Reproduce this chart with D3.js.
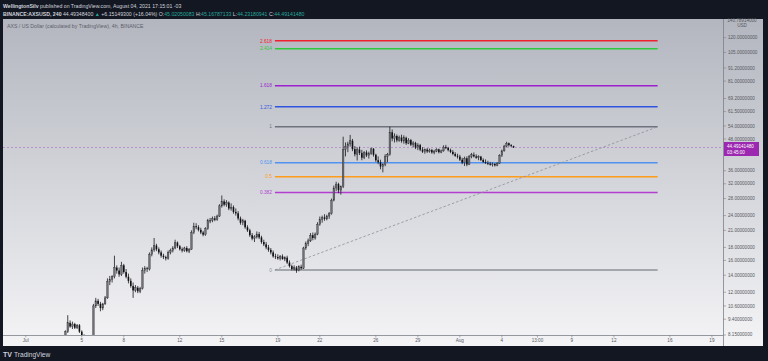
<!DOCTYPE html>
<html><head><meta charset="utf-8">
<script src="https://cdn.jsdelivr.net/npm/d3@7"></script>
<style>
html,body{margin:0;padding:0;background:#131722;overflow:hidden;}
svg{display:block;font-family:"Liberation Sans",Arial,sans-serif;}
</style></head><body>
<svg id="c" width="768" height="361"></svg>
<script>
// ---------- DATA ----------
const startTime = Date.UTC(2021, 6, 3, 20); // first bar (4h bars)
const barHours = 4;
const opens = [8.0,
 8.4,9.1,8.8,9.0,8.7,8.9,  8.4,8.0,7.8,7.7,7.6,7.9,  10.6,11.1,10.8,10.4,10.8,11.4,
 13.2,13.5,13.8,15.0,14.6,14.1,  15.3,14.4,13.8,13.3,12.7,12.2,  12.5,12.1,12.4,14.6,14.9,14.8,
 16.9,17.6,18.3,17.7,17.2,16.7,  16.5,16.3,17.2,17.5,17.9,18.8,  18.2,17.7,17.5,17.9,17.4,17.7,
 20.6,21.8,21.6,21.1,20.6,20.2,  21.3,22.9,23.0,23.4,23.1,23.9,  26.2,27.3,26.5,27.0,25.6,25.9,
 24.8,24.5,23.4,22.5,22.9,21.6,  21.0,20.1,19.5,19.8,20.3,19.7,  18.9,18.5,18.0,17.6,17.2,16.6,
 16.5,16.3,16.6,16.2,16.4,15.7,  15.2,14.8,15.0,14.6,15.1,14.9,  17.9,18.6,19.1,20.1,19.6,20.3,
 22.2,23.2,23.6,23.3,23.9,24.4,  27.6,30.8,31.9,30.2,31.2,43.6,  44.8,45.9,47.2,43.8,41.8,43.6,
 42.3,40.5,42.5,41.4,42.0,43.9,  41.6,39.6,38.9,37.4,38.1,40.9,  41.7,51.0,48.2,49.3,47.4,48.6,
 47.1,48.5,46.2,47.5,45.6,46.3,  44.4,45.4,43.6,42.8,43.6,42.9,  43.4,42.5,43.0,43.7,42.6,43.1,
 44.6,44.2,43.4,42.7,41.9,41.2,  40.9,39.8,38.7,40.3,38.1,41.0,  41.6,41.0,40.5,40.9,39.7,39.0,
 38.6,38.4,38.0,38.3,37.8,38.5,  41.4,43.1,45.0,46.2,45.4,45.0205];
const highs = [8.5,
 9.75,9.3,9.2,9.1,9.0,9.0,  8.5,8.2,8.0,7.9,8.0,10.8,  11.4,11.3,11.0,10.9,11.6,13.6,
 13.9,14.0,16.7,15.3,15.0,15.8,  15.5,14.8,14.2,13.6,13.1,12.8,  12.7,12.6,15.0,15.2,15.1,17.2,
 18.0,19.6,18.6,18.0,17.5,17.0,  16.7,17.5,17.8,18.2,19.3,19.0,  18.4,18.0,18.1,18.2,17.9,21.0,
 22.5,22.4,22.0,21.5,20.9,21.6,  23.3,23.5,23.8,23.9,24.2,26.6,  28.8,27.8,27.6,27.3,26.8,26.3,
 25.6,25.0,23.8,23.3,23.1,22.0,  21.3,20.5,20.1,20.8,20.7,20.0,  19.3,18.9,18.4,17.9,17.5,17.0,
 16.9,16.8,16.9,16.6,16.7,16.0,  15.4,15.3,15.2,15.3,15.4,18.1,  19.0,19.5,20.5,20.6,20.6,22.6,
 23.8,24.0,24.3,24.2,24.8,28.0,  31.5,32.6,32.3,31.5,49.0,46.5,  46.8,49.8,48.0,45.0,44.5,44.8,
 43.5,43.0,43.3,42.8,44.4,44.2,  42.0,41.0,39.8,38.5,41.8,42.3,  53.6,52.3,50.5,50.0,49.5,49.9,
 49.6,49.0,48.3,48.0,47.0,46.8,  46.2,45.9,44.6,44.0,44.2,44.0,  43.9,43.5,44.1,44.0,43.6,45.3,
 45.5,44.7,44.0,43.4,42.6,42.0,  41.6,40.5,40.9,41.0,41.5,42.3,  42.5,41.8,41.4,41.2,40.3,39.9,
 39.4,39.0,38.8,38.6,38.9,41.8,  43.6,45.5,46.8,46.5,45.8,45.1679];
const lows = [7.9,
 8.3,8.7,8.6,8.6,8.6,8.3,  7.9,7.6,7.5,7.4,7.5,7.8,  10.4,10.6,10.1,10.2,10.7,11.3,
 12.8,13.1,13.6,14.2,13.8,13.9,  14.2,13.6,13.0,12.5,11.4,12.0,  11.9,11.9,12.3,14.2,14.4,14.6,
 16.6,17.3,17.4,16.9,16.4,16.2,  16.0,16.1,16.9,17.2,17.7,17.9,  17.5,17.2,17.3,17.2,17.1,17.6,
 20.3,21.2,20.8,20.3,19.9,20.0,  21.1,22.4,22.6,22.8,22.9,23.7,  25.8,26.1,26.0,25.2,25.1,24.4,
 24.0,23.0,22.1,22.0,21.3,20.7,  19.8,19.2,18.9,19.5,19.4,18.6,  18.2,17.7,17.3,16.9,16.4,16.2,
 16.1,16.0,16.1,15.9,15.5,15.0,  14.6,14.6,14.3,14.5,14.7,14.8,  17.6,18.2,18.9,19.2,19.3,20.1,
 21.9,22.5,22.9,23.0,23.3,24.2,  27.3,30.0,29.4,29.0,30.8,41.0,  42.6,44.8,43.0,41.0,39.5,41.5,
 39.6,40.0,40.8,40.2,41.6,40.9,  39.0,38.2,36.5,35.5,37.5,38.9,  41.3,47.0,46.5,46.6,46.8,46.4,
 46.0,45.5,45.8,45.0,44.5,43.8,  43.4,43.0,42.3,42.0,42.3,42.4,  42.0,41.8,42.6,42.1,42.2,42.8,
 43.8,42.9,42.2,41.4,40.8,40.2,  39.3,38.2,37.6,37.5,37.9,40.3,  40.6,40.1,39.6,39.3,38.6,38.3,
 37.9,37.7,37.4,37.4,37.5,38.3,  40.8,42.8,44.5,44.8,44.6,44.2318];
const closes = [8.4,
 9.1,8.8,9.0,8.7,8.9,8.4,  8.0,7.8,7.7,7.6,7.9,10.6,  11.1,10.8,10.4,10.8,11.4,13.2,
 13.5,13.8,15.0,14.6,14.1,15.3,  14.4,13.8,13.3,12.7,12.2,12.5,  12.1,12.4,14.6,14.9,14.8,16.9,
 17.6,18.3,17.7,17.2,16.7,16.5,  16.3,17.2,17.5,17.9,18.8,18.2,  17.7,17.5,17.9,17.4,17.7,20.6,
 21.8,21.6,21.1,20.6,20.2,21.3,  22.9,23.0,23.4,23.1,23.9,26.2,  27.3,26.5,27.0,25.6,25.9,24.8,
 24.5,23.4,22.5,22.9,21.6,21.0,  20.1,19.5,19.8,20.3,19.7,18.9,  18.5,18.0,17.6,17.2,16.6,16.5,
 16.3,16.6,16.2,16.4,15.7,15.2,  14.8,15.0,14.6,15.1,14.9,17.9,  18.6,19.1,20.1,19.6,20.3,22.2,
 23.2,23.6,23.3,23.9,24.4,27.6,  30.8,31.9,30.2,31.2,43.6,44.8,  45.9,47.2,43.8,41.8,43.6,42.3,
 40.5,42.5,41.4,42.0,43.9,41.6,  39.6,38.9,37.4,38.1,40.9,41.7,  51.0,48.2,49.3,47.4,48.6,47.1,
 48.5,46.2,47.5,45.6,46.3,44.4,  45.4,43.6,42.8,43.6,42.9,43.4,  42.5,43.0,43.7,42.6,43.1,44.6,
 44.2,43.4,42.7,41.9,41.2,40.9,  39.8,38.7,40.3,38.1,41.0,41.6,  41.0,40.5,40.9,39.7,39.0,38.6,
 38.4,38.0,38.3,37.8,38.5,41.4,  43.1,45.0,46.2,45.4,45.0205,44.4914148];

const priceTicks = [120,105,91.2,81,69.2,61.5,54,48,36,32,28,24,21,18,16,14,12,10.6,9.4,8.15];
const priceTop = 140.78914;
const priceBottom = 8.15;
const dateTickTimes = [Date.UTC(2021,6,1),Date.UTC(2021,6,5),Date.UTC(2021,6,8),Date.UTC(2021,6,12),
  Date.UTC(2021,6,15),Date.UTC(2021,6,19),Date.UTC(2021,6,22),Date.UTC(2021,6,26),Date.UTC(2021,6,29),
  Date.UTC(2021,7,1),Date.UTC(2021,7,4),Date.UTC(2021,7,6,13),Date.UTC(2021,7,9),Date.UTC(2021,7,12),
  Date.UTC(2021,7,16),Date.UTC(2021,7,19)];
const dateTickLabels = ["Jul","5","8","12","15","19","22","26","29","Aug","4","13:00","9","12","16","19"];
const fibLevels = [0, 0.382, 0.5, 0.618, 1, 1.272, 1.618, 2.414, 2.618];
const fibLabels = ["0","0.382","0.5","0.618","1","1.272","1.618","2.414","2.618"];
const fibLow = 14.68, fibHigh = 53.6;
const fibStartTime = Date.UTC(2021,6,18,19), fibEndTime = Date.UTC(2021,7,15,3);
const lastPrice = 44.4914148;
const lastPriceLabel = "44.49141480", countdown = "03:45:00";

// ---------- STYLES ----------
const fibColor = {"0":"#8f929b","0.382":"#b23fd0","0.5":"#ff9c1a","0.618":"#4f92f0","1":"#6f727c",
  "1.272":"#2f55e0","1.618":"#9c1fd0","2.414":"#2fc83c","2.618":"#f0202e"};

const svg = d3.select("#c");
const W = 768, H = 361;
const L = 3, R = 723, T = 20, B = 335;

const defs = svg.append("defs");
const grad = defs.append("linearGradient").attr("id","bg").attr("x1",0).attr("y1",0).attr("x2",0).attr("y2",1);
grad.append("stop").attr("offset","0%").attr("stop-color","#b3b6bf");
grad.append("stop").attr("offset","100%").attr("stop-color","#f4f4f6");
defs.append("clipPath").attr("id","plot").append("rect").attr("x",L).attr("y",T).attr("width",R-L).attr("height",B-T);

svg.append("rect").attr("width",W).attr("height",H).attr("fill","#131722");
svg.append("rect").attr("x",3).attr("y",19).attr("width",760).attr("height",327).attr("fill","url(#bg)");

const x = d3.scaleUtc().domain([new Date(Date.UTC(2021,5,29,9)), new Date(Date.UTC(2021,7,19,19))]).range([L,R]);
const y = d3.scaleLog().domain([priceBottom, priceTop]).range([B,T]);

// header
const hdr = svg.append("g").attr("font-size",5.2).attr("fill","#d1d4dc");
const h1 = hdr.append("text").attr("x",3).attr("y",8);
h1.append("tspan").attr("font-weight","bold").text("WellingtonSilv");
h1.append("tspan").text(" published on TradingView.com, August 04, 2021 17:15:01 -03");
const h2 = hdr.append("text").attr("x",3).attr("y",15.5);
h2.append("tspan").attr("font-weight","bold").text("BINANCE:AXSUSD, 240 ");
h2.append("tspan").text("44.49348400 ");
h2.append("tspan").attr("fill","#26a69a").text("▲");
h2.append("tspan").text(" +6.15149300 (+16.04%) O:");
h2.append("tspan").attr("fill","#26a69a").text("45.02050083");
h2.append("tspan").text(" H:");
h2.append("tspan").attr("fill","#26a69a").text("45.16787133");
h2.append("tspan").text(" L:");
h2.append("tspan").attr("fill","#26a69a").text("44.23180941");
h2.append("tspan").text(" C:");
h2.append("tspan").attr("fill","#26a69a").text("44.49141480");

svg.append("text").attr("x",7).attr("y",28).attr("font-size",5.2).attr("fill","#5d606b")
  .text("AXS / US Dollar (calculated by TradingView), 4h, BINANCE");

// fib levels
const fg = svg.append("g");
const fx1 = x(new Date(fibStartTime)), fx2 = x(new Date(fibEndTime));
fibLevels.forEach((lv,i)=>{
  const p = fibLow + lv*(fibHigh-fibLow);
  const yy = y(p);
  fg.append("line").attr("x1",fx1).attr("x2",fx2).attr("y1",yy).attr("y2",yy)
    .attr("stroke",fibColor[fibLabels[i]]).attr("stroke-width",1.5);
  fg.append("text").attr("x",fx1-3).attr("y",yy).attr("dy","0.35em").attr("text-anchor","end")
    .attr("font-size",4.8).attr("fill",fibColor[fibLabels[i]]).text(fibLabels[i]);
});
fg.append("line").attr("x1",fx1).attr("y1",y(fibLow)).attr("x2",fx2).attr("y2",y(fibHigh))
  .attr("stroke","#8c8f98").attr("stroke-width",0.8).attr("stroke-dasharray","2.5,2");

// current price dashed line
const ly = Math.round(y(lastPrice))+0.5;
svg.append("line").attr("x1",L).attr("x2",R).attr("y1",ly).attr("y2",ly)
  .attr("stroke","#b07cc6").attr("stroke-width",0.7).attr("stroke-dasharray","2,2");

// candles
const data = closes.map((c,i)=>({t:new Date(startTime + i*barHours*3600e3), o:opens[i], h:highs[i], l:lows[i], c}));
const cg = svg.append("g").attr("clip-path","url(#plot)");
const bw = 1.6;
cg.selectAll("line.w").data(data).join("line").attr("class","w")
  .attr("x1",d=>x(d.t)).attr("x2",d=>x(d.t)).attr("y1",d=>y(d.h)).attr("y2",d=>y(d.l))
  .attr("stroke","#1a1a1d").attr("stroke-width",0.8);
cg.selectAll("rect.b").data(data).join("rect").attr("class","b")
  .attr("x",d=>x(d.t)-bw/2).attr("width",bw)
  .attr("y",d=>y(Math.max(d.o,d.c)))
  .attr("height",d=>Math.max(0.8, Math.abs(y(d.o)-y(d.c))))
  .attr("fill",d=>d.c>=d.o?"#6f7075":"#101013")
  .attr("stroke",d=>d.c>=d.o?"#2a2a2e":"none").attr("stroke-width",0.35);

// axes lines
svg.append("line").attr("x1",R+0.5).attr("x2",R+0.5).attr("y1",19).attr("y2",346).attr("stroke","#7d8089").attr("stroke-width",0.8);
svg.append("line").attr("x1",L).attr("x2",R).attr("y1",B+0.5).attr("y2",B+0.5).attr("stroke","#7d8089").attr("stroke-width",0.8);

// price axis
const pa = svg.append("g").attr("font-size",4.6).attr("fill","#55585f");
priceTicks.forEach(p=>{
  const yy = y(p);
  pa.append("line").attr("x1",R).attr("x2",R+3).attr("y1",yy).attr("y2",yy).attr("stroke","#7d8089").attr("stroke-width",0.6);
  pa.append("text").attr("x",R+5).attr("y",p===priceBottom?yy-1:yy).attr("dy","0.35em").text(d3.format(".8f")(p));
});
pa.append("text").attr("x",742).attr("y",21.5).attr("text-anchor","middle").text(d3.format(".8f")(priceTop));
pa.append("text").attr("x",742).attr("y",26.5).attr("text-anchor","middle").text("USD");

// last price label
svg.append("rect").attr("x",R+1).attr("y",ly-5.5).attr("width",35).attr("height",14).attr("fill","#9c27b0");
svg.append("text").attr("x",R+4).attr("y",ly+0.5).attr("font-size",4.6).attr("fill","#fff").text(lastPriceLabel);
svg.append("text").attr("x",R+4).attr("y",ly+6.5).attr("font-size",4.6).attr("fill","#fff").text(countdown);

// time axis
const ta = svg.append("g").attr("font-size",4.6).attr("fill","#55585f").attr("text-anchor","middle");
dateTickTimes.forEach((t,i)=>{
  const xx = x(new Date(t));
  ta.append("line").attr("x1",xx).attr("x2",xx).attr("y1",B).attr("y2",B+2.5).attr("stroke","#7d8089").attr("stroke-width",0.6);
  ta.append("text").attr("x",xx).attr("y",342).text(dateTickLabels[i]);
});

// footer logo
const ft = svg.append("g").attr("fill","#d1d4dc");
ft.append("text").attr("x",3).attr("y",356.5).attr("font-size",7).attr("font-weight","bold").text("TV");
ft.append("text").attr("x",14).attr("y",356.5).attr("font-size",6.6).text("TradingView");
</script>
</body></html>
